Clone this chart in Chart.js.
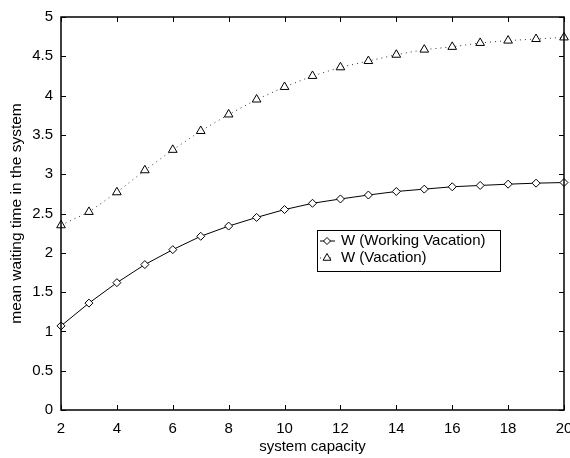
<!DOCTYPE html>
<html>
<head>
<meta charset="utf-8">
<script src="https://cdn.jsdelivr.net/npm/chart.js@4.4.1/dist/chart.umd.min.js"></script>
<style>
    html, body { margin: 0; padding: 0; background: #fff; overflow: hidden; }
    #wrap { width: 570px; height: 458px; position: relative; }
</style>
</head>
<body>
<div id="wrap"><canvas id="chart"></canvas></div>
<script>
// values
const capacity = [2, 3, 4, 5, 6, 7, 8, 9, 10, 11, 12, 13, 14, 15, 16, 17, 18, 19, 20];
const wWorkingVacation = [1.07, 1.36, 1.62, 1.85, 2.04, 2.21, 2.34, 2.45, 2.55, 2.63, 2.685, 2.735, 2.78, 2.81, 2.84, 2.857, 2.873, 2.886, 2.894];
const wVacation = [2.35, 2.52, 2.77, 3.05, 3.31, 3.55, 3.76, 3.95, 4.11, 4.25, 4.36, 4.44, 4.52, 4.585, 4.62, 4.67, 4.70, 4.72, 4.74];
const xTicks = [2, 4, 6, 8, 10, 12, 14, 16, 18, 20];
const yTicks = [0, 0.5, 1, 1.5, 2, 2.5, 3, 3.5, 4, 4.5, 5];
const seriesNames = ['W (Working Vacation)', 'W (Vacation)'];

const FONT = 'Liberation Sans, Arial, Helvetica, sans-serif';

function toPoints(ys) {
    return capacity.map(function (x, i) { return { x: x, y: ys[i] }; });
}

// box, inward ticks on all four sides, and the legend inside the plot
const frameTicks = {
    id: 'frameTicks',
    afterDraw: function (chart) {
        const ctx = chart.ctx;
        const a = chart.chartArea;
        const xs = chart.scales.x, ys = chart.scales.y;
        const len = 5;

        ctx.save();
        ctx.strokeStyle = '#000';
        ctx.lineWidth = 1;
        ctx.beginPath();
        xTicks.forEach(function (v) {
            const px = Math.round(xs.getPixelForValue(v)) + 0.5;
            ctx.moveTo(px, a.bottom); ctx.lineTo(px, a.bottom - len);
            ctx.moveTo(px, a.top); ctx.lineTo(px, a.top + len);
        });
        yTicks.forEach(function (v) {
            const py = Math.round(ys.getPixelForValue(v)) + 0.5;
            ctx.moveTo(a.left, py); ctx.lineTo(a.left + len, py);
            ctx.moveTo(a.right, py); ctx.lineTo(a.right - len, py);
        });
        ctx.stroke();

        ctx.lineWidth = 1.5;
        ctx.strokeRect(a.left, a.top, a.right - a.left, a.bottom - a.top);

        // legend
        const lx = a.left + 256, ly = a.top + 213;
        ctx.lineWidth = 1;
        ctx.fillStyle = '#fff';
        ctx.fillRect(lx, ly, 183, 41);
        ctx.strokeStyle = '#000';
        ctx.strokeRect(lx + 0.5, ly + 0.5, 183, 41);

        const rows = [ly + 11, ly + 28];
        chart.data.datasets.forEach(function (ds, i) {
            const yy = rows[i];
            ctx.save();
            ctx.strokeStyle = ds.borderColor;
            ctx.lineWidth = ds.borderWidth;
            ctx.setLineDash(ds.borderDash || []);
            ctx.beginPath();
            ctx.moveTo(lx + 3, yy); ctx.lineTo(lx + 18, yy);
            ctx.stroke();
            ctx.setLineDash([]);
            ctx.fillStyle = '#fff';
            ctx.strokeStyle = '#000';
            ctx.lineWidth = 1;
            Chart.helpers.drawPoint(ctx, {
                pointStyle: ds.pointStyle, radius: ds.pointRadius - 0.5, borderWidth: 1, rotation: 0
            }, lx + 10, yy);
            ctx.restore();
            ctx.fillStyle = '#000';
            ctx.font = '15px ' + FONT;
            ctx.textBaseline = 'middle';
            ctx.fillText(seriesNames[i], lx + 24, yy);
        });
        ctx.restore();
    }
};

function plainLabel(v) { return String(v); }

new Chart(document.getElementById('chart'), {
    type: 'line',
    data: {
        datasets: [{
            label: seriesNames[0],
            data: toPoints(wWorkingVacation),
            borderColor: '#000',
            borderWidth: 1,
            backgroundColor: '#fff',
            pointStyle: 'rectRot',
            pointRadius: 4,
            pointBorderWidth: 1,
            pointBackgroundColor: '#fff',
            pointBorderColor: '#000',
            tension: 0,
            clip: false
        }, {
            label: seriesNames[1],
            data: toPoints(wVacation),
            borderColor: '#333',
            borderWidth: 1,
            borderDash: [1, 4],
            backgroundColor: '#fff',
            pointStyle: 'triangle',
            pointRadius: 5,
            pointBorderWidth: 1,
            pointBackgroundColor: '#fff',
            pointBorderColor: '#000',
            tension: 0,
            clip: false
        }]
    },
    options: {
        responsive: true,
        maintainAspectRatio: false,
        animation: false,
        events: [],
        layout: { padding: { top: 12, right: 3, bottom: 0, left: 0 } },
        plugins: {
            legend: { display: false },
            tooltip: { enabled: false }
        },
        scales: {
            x: {
                type: 'linear',
                min: 2,
                max: 20,
                afterBuildTicks: function (s) { s.ticks = xTicks.map(function (v) { return { value: v }; }); },
                afterFit: function (s) { s.height = 48; s.paddingLeft = 0; s.paddingRight = 0; },
                grid: { display: false, drawTicks: false },
                border: { display: false },
                ticks: { color: '#000', padding: 10, maxRotation: 0, callback: plainLabel, font: { family: FONT, size: 15 } },
                title: {
                    display: true,
                    text: 'system capacity',
                    color: '#000',
                    font: { family: FONT, size: 15 },
                    padding: { top: 0, bottom: 2 }
                }
            },
            y: {
                min: 0,
                max: 5,
                afterBuildTicks: function (s) { s.ticks = yTicks.map(function (v) { return { value: v }; }); },
                afterFit: function (s) { s.width = 61; },
                grid: { display: false, drawTicks: false },
                border: { display: false },
                ticks: { color: '#000', padding: 8, callback: plainLabel, font: { family: FONT, size: 15 } },
                title: {
                    display: true,
                    text: 'mean waiting time in the system',
                    color: '#000',
                    font: { family: FONT, size: 15.5 },
                    padding: { top: 7, bottom: 0 }
                }
            }
        }
    },
    plugins: [frameTicks]
});
</script>
</body>
</html>
